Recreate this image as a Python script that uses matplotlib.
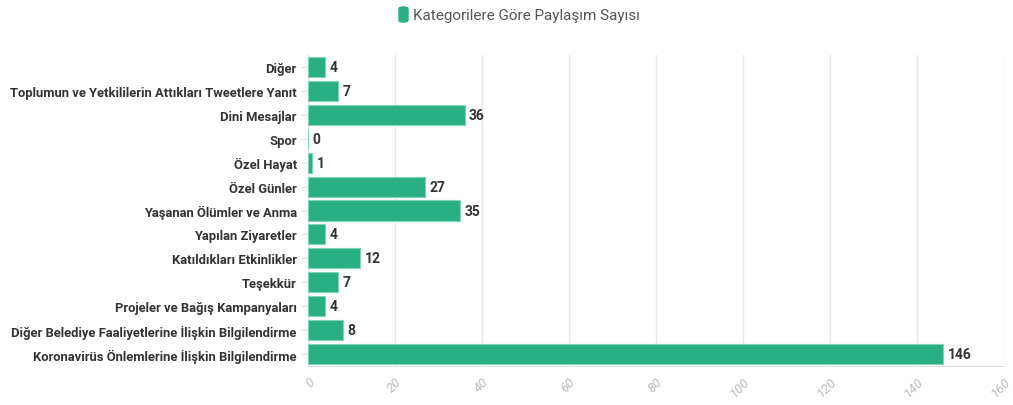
import matplotlib
matplotlib.use("Agg")
import matplotlib.pyplot as plt
from matplotlib.patches import FancyBboxPatch

categories = [
    "Diğer",
    "Toplumun ve Yetkililerin Attıkları Tweetlere Yanıt",
    "Dini Mesajlar",
    "Spor",
    "Özel Hayat",
    "Özel Günler",
    "Yaşanan Ölümler ve Anma",
    "Yapılan Ziyaretler",
    "Katıldıkları Etkinlikler",
    "Teşekkür",
    "Projeler ve Bağış Kampanyaları",
    "Diğer Belediye Faaliyetlerine İlişkin Bilgilendirme",
    "Koronavirüs Önlemlerine İlişkin Bilgilendirme",
]
values = [4, 7, 36, 0, 1, 27, 35, 4, 12, 7, 4, 8, 146]
series_name = "Kategorilere Göre Paylaşım Sayısı"
xticks = [0, 20, 40, 60, 80, 100, 120, 140, 160]

plt.rcParams['font.family'] = ['Roboto', 'DejaVu Sans']
green = '#2aaf85'

fig = plt.figure(figsize=(10.13, 4.06), dpi=100)
ax = fig.add_axes([0.304, 0.096, 0.687, 0.766])

y = list(range(len(categories)))
ax.barh(y, values, height=0.84, color=green, edgecolor='#7fd3b6', linewidth=0.8, zorder=3)
for yi, v in zip(y, values):
    ax.text(v + 1.0, yi, str(v), va='center', ha='left', fontsize=10,
            fontweight='bold', color='#333333', zorder=4)

ax.set_ylim(len(categories) - 0.5, -0.5)
ax.set_xlim(0, 160)
ax.set_yticks(y)
ax.set_yticklabels(categories, fontsize=9.4, fontweight='bold', color='#333333')
ax.set_xticks(xticks)
ax.set_xticklabels([str(t) for t in xticks], rotation=45, fontsize=9.5,
                   color='#bbbbbb', style='italic', ha='right', va='top',
                   rotation_mode='anchor')
ax.tick_params(axis='y', length=5, color='#dddddd', pad=3)
ax.tick_params(axis='x', length=0, pad=6)
ax.grid(axis='x', color='#e8e8e8', linewidth=1, zorder=0)
for s in ['top', 'right']:
    ax.spines[s].set_visible(False)
ax.spines['left'].set_color('#e0e0e0')
ax.spines['bottom'].set_color('#e0e0e0')

# legend
fig.patches.append(FancyBboxPatch((399 / 1013, 1 - 23 / 406), 9 / 1013, 15 / 406,
                                  boxstyle="round,pad=0,rounding_size=0.004",
                                  transform=fig.transFigure, color=green))
fig.text(413 / 1013, 1 - 16 / 406, series_name, fontsize=11, color='#555555',
         va='center', ha='left')

fig.savefig("out.png", dpi=100)
